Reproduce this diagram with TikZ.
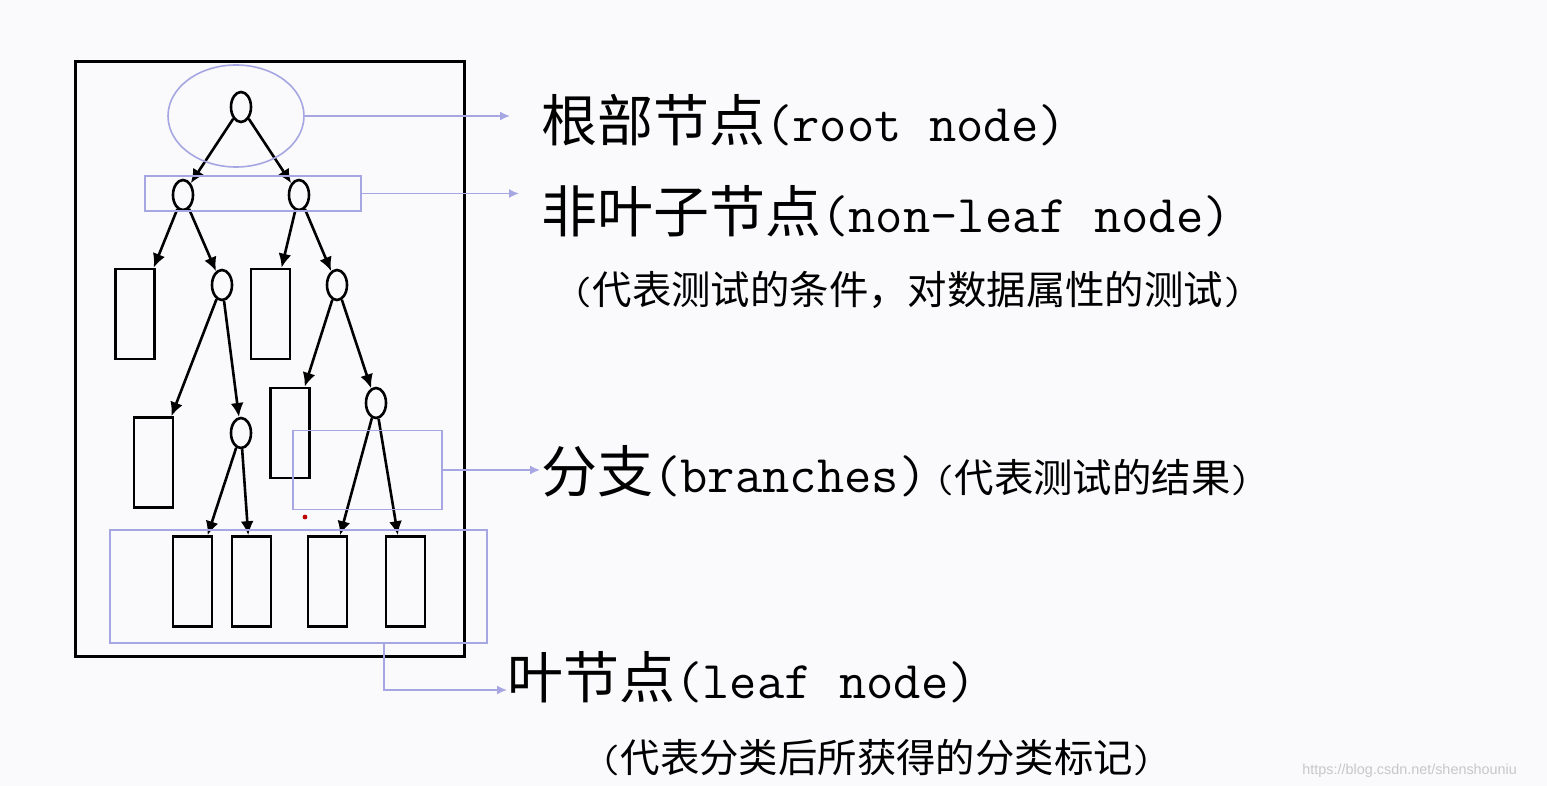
\documentclass[tikz,border=0pt]{standalone}
\usepackage{fontspec}
\newfontfamily\cjk{Noto Sans CJK SC}
\newfontfamily\wmfont{Liberation Sans}
\usetikzlibrary{shapes.geometric,arrows.meta}
\definecolor{hl}{RGB}{166,166,226}
\definecolor{bg}{RGB}{250,250,252}
\newcommand{\zhbig}{\fontsize{28}{32}\selectfont\cjk}
\newcommand{\enbig}{\fontsize{26.5}{32}\selectfont\ttfamily}
\newcommand{\zhsmall}{\fontsize{19.7}{24}\selectfont\cjk}
\newcommand{\lpar}{{\ttfamily(}}
\newcommand{\rpar}{{\ttfamily)}}
\tikzset{
  test/.style={draw,ellipse,line width=1.3pt,minimum width=10pt,minimum height=15pt,inner sep=0pt},
  leaf/.style={draw,rectangle,line width=1.3pt,minimum width=19.5pt,minimum height=45pt,inner sep=0pt},
  branch/.style={line width=1.3pt,-{Latex[length=7pt,width=6.5pt]}},
  hlshape/.style={draw=hl,line width=0.8pt,inner sep=0pt},
  hlarrow/.style={draw=hl,line width=0.8pt,-{Latex[length=5pt,width=4.5pt]}},
  txt/.style={anchor=base west,inner sep=0pt}
}
\begin{document}
\begin{tikzpicture}[x=0.5pt,y=-0.5pt]
\useasboundingbox (0,0) rectangle (1547,786);
\fill[bg] (0,0) rectangle (1547,786);
% frame
\draw[line width=1.5pt] (75,62) rectangle (464,656);
% nodes
\node[test] (root) at (241,107)   {};
\node[test] (nl)   at (183,195)   {};
\node[test] (nr)   at (299,195)   {};
\node[leaf] (l1)   at (135,314)   {};
\node[test] (nlr)  at (222,285)   {};
\node[leaf] (l2)   at (270.5,314) {};
\node[test] (nrr)  at (337,285)   {};
\node[leaf] (l3)   at (153.5,462.5) {};
\node[test] (nlrr) at (241,433)   {};
\node[leaf] (l4)   at (290,433)   {};
\node[test] (nrrr) at (376,403)   {};
\node[leaf] (l5)   at (192.5,581.5) {};
\node[leaf] (l6)   at (251.5,581.5) {};
\node[leaf] (l7)   at (327.5,581.5) {};
\node[leaf] (l8)   at (405.5,581.5) {};
% branches
\draw[branch] (root) -- (nl);
\draw[branch] (root) -- (nr);
\draw[branch] (nl)   -- (l1);
\draw[branch] (nl)   -- (nlr);
\draw[branch] (nr)   -- (l2);
\draw[branch] (nr)   -- (nrr);
\draw[branch] (nlr)  -- (l3);
\draw[branch] (nlr)  -- (nlrr);
\draw[branch] (nrr)  -- (l4);
\draw[branch] (nrr)  -- (nrrr);
\draw[branch] (nlrr) -- (l5);
\draw[branch] (nlrr) -- (l6);
\draw[branch] (nrrr) -- (l7);
\draw[branch] (nrrr) -- (l8);
\fill[red!75!black] (305,517) circle (1.2pt);
% highlights
\node[hlshape,ellipse,minimum width=68pt,minimum height=51pt] (hlroot) at (236,116) {};
\node[hlshape,minimum width=108pt,minimum height=17.5pt]    (hlnl)   at (253,193.5) {};
\node[hlshape,minimum width=74.5pt,minimum height=39.5pt]   (hlbr)   at (367.5,470) {};
\node[hlshape,minimum width=188.5pt,minimum height=56.5pt]  (hlleaf) at (298.5,586.5) {};
\coordinate (rootend)   at (510,116);
\coordinate (nlend)     at (519,193.5);
\coordinate (brend)     at (540,470);
\coordinate (leafstart) at (384,643);
\coordinate (leafend)   at (507,690);
\draw[hlarrow] (hlroot.east) -- (rootend);
\draw[hlarrow] (hlnl.east)   -- (nlend);
\draw[hlarrow] (hlbr.east)   -- (brend);
\draw[hlarrow] (leafstart) |- (leafend);
% texts
\node[txt] (troot)   at (541,142) {\zhbig 根部节点\enbig(root node)};
\node[txt] (tnl)     at (541,233) {\zhbig 非叶子节点\enbig(non-leaf node)};
\node[txt] (tnlnote) at (572,305) {\zhsmall\lpar 代表测试的条件，对数据属性的测试\rpar};
\node[txt] (tbr)     at (541,492) {\zhbig 分支\enbig(branches)\hspace{4pt}\zhsmall\lpar 代表测试的结果\rpar};
\node[txt] (tleaf)   at (507,698) {\zhbig 叶节点\enbig(leaf node)};
\node[txt] (tlfnote) at (600,772) {\zhsmall\lpar 代表分类后所获得的分类标记\rpar};
\node[anchor=west,inner sep=0pt,text=black!22,font=\wmfont\fontsize{7.2}{9}\selectfont] (wm) at (1302,771) {https://blog.csdn.net/shenshouniu};
\end{tikzpicture}
\end{document}
